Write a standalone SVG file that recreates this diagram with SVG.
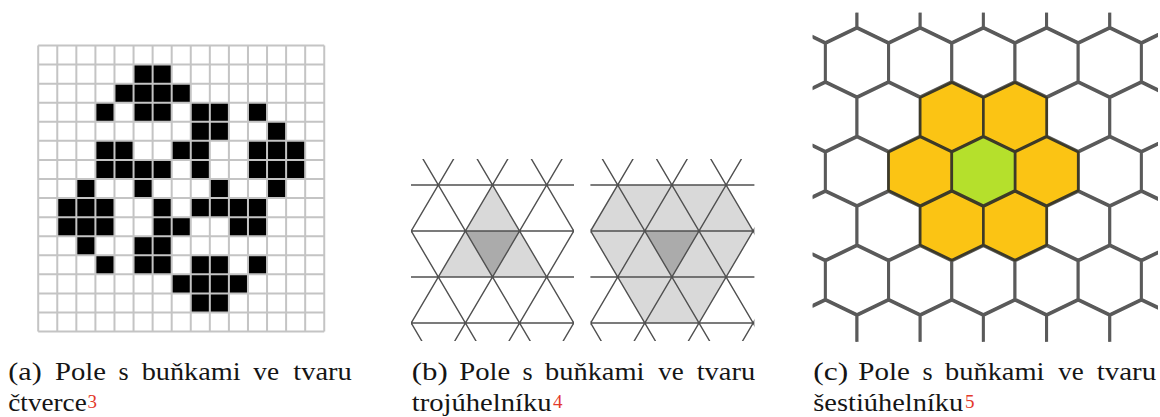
<svg xmlns="http://www.w3.org/2000/svg" xmlns:xlink="http://www.w3.org/1999/xlink" width="1160" height="417" viewBox="0 0 1160 417">
<style>
.cap{font-family:'Liberation Serif','DejaVu Serif',serif;font-size:26px;fill:#151515}
.sup{font-family:'Liberation Serif','DejaVu Serif',serif;font-size:19px;fill:#e3392b}
.grid{fill:none;stroke:#c4c4c4;stroke-width:2}
.tri{fill:none;stroke:#505050;stroke-width:1.4}
.lt{fill:#d9d9d9}
.dk{fill:#ababab}
.hw{fill:#ffffff;stroke:#5a5a5a;stroke-width:3}
.ho{fill:#fbc414;stroke:#3d3a28;stroke-width:2.6}
.hg{fill:#b5e02c;stroke:#3d3a28;stroke-width:2.6}
</style>
<defs>
<path id="trilines" d="M400 185H590M400 231H590M400 277H590M400 323H590M458.9 150L341.1 350M513.1 150L395.3 350M567.3 150L449.5 350M621.5 150L503.7 350M675.7 150L557.9 350M309.3 150L427.1 350M363.5 150L481.3 350M417.7 150L535.5 350M471.9 150L589.7 350M526.1 150L643.9 350"/>
<path id="hx" d="M0 -34.4L31.6 -19.2L31.6 19.2L0 34.4L-31.6 19.2L-31.6 -19.2Z"/>
<clipPath id="clipL"><rect x="411" y="159" width="163" height="182"/></clipPath>
<clipPath id="clipR"><rect x="590.4" y="159" width="164" height="182"/></clipPath>
<clipPath id="clipH"><rect x="812.7" y="12.7" width="345.3" height="329"/></clipPath>
</defs>
<rect width="1160" height="417" fill="#ffffff"/>

<g id="panel-a">
<g transform="translate(38.2 45.5) scale(19.07)">
<path fill="#000" d="M5 1h2v1h-2zM4 2h4v1h-4zM3 3h1v1h-1zM5 3h2v1h-2zM8 3h2v1h-2zM11 3h1v1h-1zM8 4h2v1h-2zM12 4h1v1h-1zM3 5h2v1h-2zM7 5h2v1h-2zM11 5h3v1h-3zM3 6h4v1h-4zM8 6h1v1h-1zM11 6h3v1h-3zM2 7h1v1h-1zM5 7h1v1h-1zM9 7h1v1h-1zM12 7h1v1h-1zM1 8h3v1h-3zM6 8h1v1h-1zM8 8h4v1h-4zM1 9h3v1h-3zM6 9h2v1h-2zM10 9h2v1h-2zM2 10h1v1h-1zM5 10h2v1h-2zM3 11h1v1h-1zM5 11h2v1h-2zM8 11h2v1h-2zM11 11h1v1h-1zM7 12h4v1h-4zM8 13h2v1h-2z"/>
<path class="grid" vector-effect="non-scaling-stroke" d="M0 0V15M1 0V15M2 0V15M3 0V15M4 0V15M5 0V15M6 0V15M7 0V15M8 0V15M9 0V15M10 0V15M11 0V15M12 0V15M13 0V15M14 0V15M15 0V15M0 0H15M0 1H15M0 2H15M0 3H15M0 4H15M0 5H15M0 6H15M0 7H15M0 8H15M0 9H15M0 10H15M0 11H15M0 12H15M0 13H15M0 14H15M0 15H15"/>
</g>
</g>

<g id="panel-b-left" clip-path="url(#clipL)">
<polygon class="lt" points="492.5,185 438.3,277 546.7,277"/>
<polygon class="dk" points="465.4,231 519.6,231 492.5,277"/>
<use href="#trilines" class="tri"/>
</g>
<g id="panel-b-right" clip-path="url(#clipR)">
<g transform="translate(179.4 0)">
<polygon class="lt" points="438.3,185 546.7,185 573.8,231 546.7,277 519.6,323 465.4,323 438.3,277 411.2,231"/>
<polygon class="dk" points="465.4,231 519.6,231 492.5,277"/>
<use href="#trilines" class="tri"/>
</g>
</g>

<g id="panel-c" clip-path="url(#clipH)">
<g class="hw">
<use href="#hx" x="825.4" y="8.1"/><use href="#hx" x="888.6" y="8.1"/><use href="#hx" x="951.8" y="8.1"/><use href="#hx" x="1015" y="8.1"/><use href="#hx" x="1078.2" y="8.1"/><use href="#hx" x="1141.4" y="8.1"/>
<use href="#hx" x="793.8" y="62.5"/><use href="#hx" x="857" y="62.5"/><use href="#hx" x="920.2" y="62.5"/><use href="#hx" x="983.4" y="62.5"/><use href="#hx" x="1046.6" y="62.5"/><use href="#hx" x="1109.8" y="62.5"/><use href="#hx" x="1173" y="62.5"/>
<use href="#hx" x="825.4" y="116.9"/><use href="#hx" x="888.6" y="116.9"/><use href="#hx" x="1078.2" y="116.9"/><use href="#hx" x="1141.4" y="116.9"/>
<use href="#hx" x="793.8" y="171.3"/><use href="#hx" x="857" y="171.3"/><use href="#hx" x="1109.8" y="171.3"/><use href="#hx" x="1173" y="171.3"/>
<use href="#hx" x="825.4" y="225.7"/><use href="#hx" x="888.6" y="225.7"/><use href="#hx" x="1078.2" y="225.7"/><use href="#hx" x="1141.4" y="225.7"/>
<use href="#hx" x="793.8" y="280.1"/><use href="#hx" x="857" y="280.1"/><use href="#hx" x="920.2" y="280.1"/><use href="#hx" x="983.4" y="280.1"/><use href="#hx" x="1046.6" y="280.1"/><use href="#hx" x="1109.8" y="280.1"/><use href="#hx" x="1173" y="280.1"/>
<use href="#hx" x="825.4" y="334.5"/><use href="#hx" x="888.6" y="334.5"/><use href="#hx" x="951.8" y="334.5"/><use href="#hx" x="1015" y="334.5"/><use href="#hx" x="1078.2" y="334.5"/><use href="#hx" x="1141.4" y="334.5"/>
</g>
<g class="ho">
<use href="#hx" x="951.8" y="116.9"/><use href="#hx" x="1015" y="116.9"/>
<use href="#hx" x="920.2" y="171.3"/><use href="#hx" x="1046.6" y="171.3"/>
<use href="#hx" x="951.8" y="225.7"/><use href="#hx" x="1015" y="225.7"/>
</g>
<use href="#hx" class="hg" x="983.4" y="171.3"/>
</g>

<g id="caption-a">
<text class="cap" x="8.3" y="380" textLength="33.4" lengthAdjust="spacingAndGlyphs">(a)</text>
<text class="cap" x="55" y="380" textLength="51" lengthAdjust="spacingAndGlyphs">Pole</text>
<text class="cap" x="118.5" y="380">s</text>
<text class="cap" x="141.7" y="380" textLength="99" lengthAdjust="spacingAndGlyphs">buňkami</text>
<text class="cap" x="253.3" y="380" textLength="25.8" lengthAdjust="spacingAndGlyphs">ve</text>
<text class="cap" x="293.3" y="380" textLength="58.5" lengthAdjust="spacingAndGlyphs">tvaru</text>
<text class="cap" x="8.3" y="411" textLength="78.4" lengthAdjust="spacingAndGlyphs">čtverce</text>
<text class="sup" x="87.6" y="407.7">3</text>
</g>
<g id="caption-b">
<text class="cap" x="411.7" y="380" textLength="36" lengthAdjust="spacingAndGlyphs">(b)</text>
<text class="cap" x="459.3" y="380" textLength="51" lengthAdjust="spacingAndGlyphs">Pole</text>
<text class="cap" x="522.5" y="380">s</text>
<text class="cap" x="545" y="380" textLength="99.5" lengthAdjust="spacingAndGlyphs">buňkami</text>
<text class="cap" x="658.3" y="380" textLength="25.5" lengthAdjust="spacingAndGlyphs">ve</text>
<text class="cap" x="696.7" y="380" textLength="58.5" lengthAdjust="spacingAndGlyphs">tvaru</text>
<text class="cap" x="411.7" y="411" textLength="140" lengthAdjust="spacingAndGlyphs">trojúhelníku</text>
<text class="sup" x="553" y="407.7">4</text>
</g>
<g id="caption-c">
<text class="cap" x="813.3" y="380" textLength="35" lengthAdjust="spacingAndGlyphs">(c)</text>
<text class="cap" x="858.3" y="380" textLength="51.5" lengthAdjust="spacingAndGlyphs">Pole</text>
<text class="cap" x="922.5" y="380">s</text>
<text class="cap" x="945" y="380" textLength="99.5" lengthAdjust="spacingAndGlyphs">buňkami</text>
<text class="cap" x="1058.3" y="380" textLength="25.5" lengthAdjust="spacingAndGlyphs">ve</text>
<text class="cap" x="1096.7" y="380" textLength="59.5" lengthAdjust="spacingAndGlyphs">tvaru</text>
<text class="cap" x="813.3" y="411" textLength="150" lengthAdjust="spacingAndGlyphs">šestiúhelníku</text>
<text class="sup" x="965" y="407.7">5</text>
</g>
</svg>
